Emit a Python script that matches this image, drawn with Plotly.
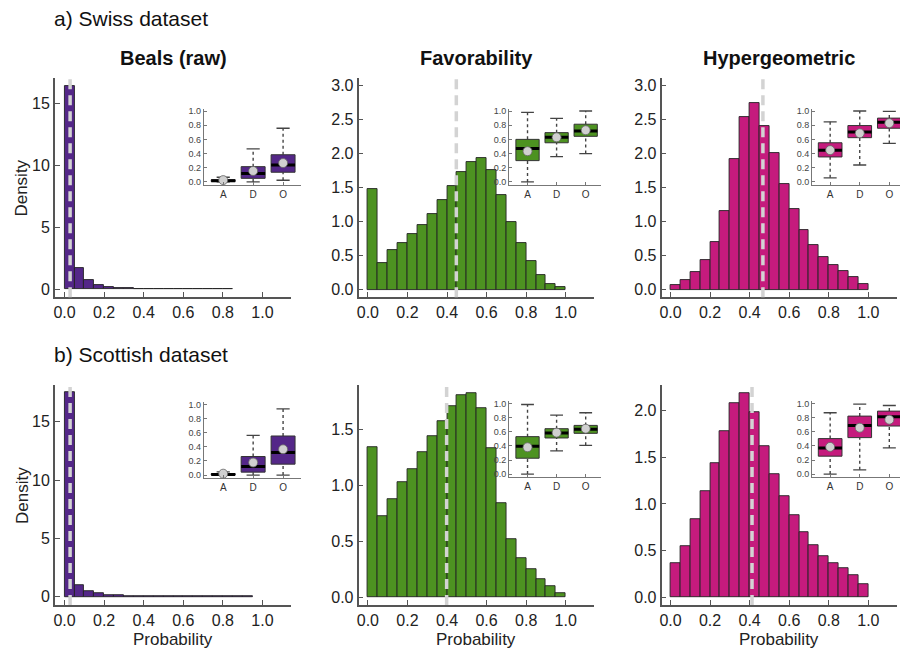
import plotly.graph_objects as go

# ---------------- data ----------------
bin_width = 0.05
beals_swiss = [16.4, 1.73, 0.75, 0.36, 0.2, 0.13, 0.09, 0.07, 0.05, 0.04, 0.03, 0.025, 0.02, 0.015, 0.01, 0.01, 0.005]
fav_swiss = [1.485, 0.39, 0.575, 0.687, 0.823, 0.955, 1.115, 1.32, 1.524, 1.724, 1.88, 1.929, 1.75, 1.383, 0.998, 0.682, 0.419, 0.219, 0.088, 0.03]
hyper_swiss = [0.063, 0.136, 0.253, 0.429, 0.692, 1.149, 1.914, 2.532, 2.737, 2.40, 2.006, 1.558, 1.183, 0.877, 0.648, 0.477, 0.356, 0.268, 0.19, 0.088]
beals_scot = [17.5, 0.95, 0.43, 0.26, 0.17, 0.11, 0.08, 0.06, 0.05, 0.04, 0.03, 0.025, 0.02, 0.015, 0.012, 0.01, 0.008, 0.006, 0.004]
fav_scot = [1.343, 0.72, 0.878, 1.026, 1.144, 1.299, 1.441, 1.571, 1.708, 1.806, 1.826, 1.687, 1.331, 0.842, 0.516, 0.35, 0.249, 0.16, 0.098, 0.039]
hyper_scot = [0.367, 0.544, 0.84, 1.142, 1.438, 1.783, 2.078, 2.192, 1.986, 1.623, 1.317, 1.082, 0.879, 0.701, 0.559, 0.441, 0.367, 0.306, 0.231, 0.135]

vlines = [0.028, 0.447, 0.467, 0.028, 0.398, 0.412]

categories = ["A", "D", "O"]
# box stats per inset: lower whisker, q1, median, q3, upper whisker, mean
box_beals_swiss = dict(lo=[0.0, 0.0, 0.023], q1=[0.005, 0.05, 0.136], med=[0.015, 0.117, 0.238],
                       q3=[0.03, 0.215, 0.383], hi=[0.065, 0.467, 0.757], mean=[0.025, 0.154, 0.266])
box_fav_swiss = dict(lo=[0.0, 0.357, 0.4], q1=[0.3, 0.552, 0.643], med=[0.471, 0.629, 0.719],
                     q3=[0.6, 0.695, 0.814], hi=[0.981, 0.895, 1.0], mean=[0.433, 0.629, 0.729])
box_hyper_swiss = dict(lo=[0.057, 0.238, 0.543], q1=[0.352, 0.624, 0.757], med=[0.448, 0.705, 0.843],
                       q3=[0.552, 0.795, 0.9], hi=[0.848, 1.0, 0.995], mean=[0.448, 0.686, 0.829])
box_beals_scot = dict(lo=[0.0, 0.0, 0.0], q1=[0.002, 0.042, 0.155], med=[0.008, 0.122, 0.319],
                      q3=[0.02, 0.263, 0.554], hi=[0.045, 0.563, 0.939], mean=[0.02, 0.178, 0.366])
box_fav_scot = dict(lo=[0.0, 0.33, 0.41], q1=[0.226, 0.514, 0.58], med=[0.396, 0.585, 0.637],
                    q3=[0.533, 0.646, 0.693], hi=[0.99, 0.84, 0.873], mean=[0.382, 0.59, 0.646])
box_hyper_scot = dict(lo=[0.0, 0.061, 0.373], q1=[0.255, 0.519, 0.684], med=[0.373, 0.693, 0.816],
                      q3=[0.505, 0.825, 0.896], hi=[0.873, 0.995, 0.976], mean=[0.387, 0.66, 0.774])

x_ticks = [0.0, 0.2, 0.4, 0.6, 0.8, 1.0]
inset_ticks = [0.0, 0.2, 0.4, 0.6, 0.8, 1.0]
y_ticks = [[0, 5, 10, 15], [0, 0.5, 1, 1.5, 2, 2.5, 3], [0, 0.5, 1, 1.5, 2, 2.5, 3],
           [0, 5, 10, 15], [0, 0.5, 1, 1.5], [0, 0.5, 1, 1.5, 2]]
y_fmt = ["{:.0f}", "{:.1f}", "{:.1f}", "{:.0f}", "{:.1f}", "{:.1f}"]

col_titles = ["Beals (raw)", "Favorability", "Hypergeometric"]
row_titles = ["a) Swiss dataset", "b) Scottish dataset"]

PURPLE = "#542788"
GREEN = "#4D9221"
MAGENTA = "#C51B7D"
colors = [PURPLE, GREEN, MAGENTA, PURPLE, GREEN, MAGENTA]
hists = [beals_swiss, fav_swiss, hyper_swiss, beals_scot, fav_scot, hyper_scot]
boxes = [box_beals_swiss, box_fav_swiss, box_hyper_swiss, box_beals_scot, box_fav_scot, box_hyper_scot]

# ---------------- layout geometry (pixels) ----------------
W, H = 900, 654
FONT = "Arial, Liberation Sans, sans-serif"


def xd(a, b):
    return [a / W, b / W]


def yd(top, bottom):
    return [1 - bottom / H, 1 - top / H]


main_cols = [(53, 290, 62.7), (357.3, 593.3, 366.7), (661, 896.7, 670)]
px_per_unit = 198.3
main_rows = [(76.5, 297), (385.5, 606.7)]
main_yranges = [[-0.618, 17.07], [-0.1125, 3.11], [-0.1125, 3.11],
                [-0.716, 18.14], [-0.071, 1.897], [-0.085, 2.275]]

inset_x = [(202.3, 300, [0.353, 3.61]), (508.3, 600, [0.369, 3.515]), (812, 900, [0.393, 3.361])]
inset_y = [[(107.2, 184.2)] * 3, [(402.5, 479.2), (401.8, 478.2), (401.8, 478.2)]]

fig = go.Figure()
layout = dict()
shapes = []
annotations = []

AXCOL = "#555555"

for i in range(6):
    r, c = divmod(i, 3)
    n = i + 1
    xa = "x" if n == 1 else f"x{n}"
    ya = "y" if n == 1 else f"y{n}"
    dens = hists[i]
    centers = [bin_width * (k + 0.5) for k in range(len(dens))]
    fig.add_trace(go.Bar(x=centers, y=dens, width=bin_width, xaxis=xa, yaxis=ya,
                         marker=dict(color=colors[i], line=dict(color="#222222", width=0.9)),
                         showlegend=False))
    a, b, z = main_cols[c]
    top, bot = main_rows[r]
    layout["xaxis" if n == 1 else f"xaxis{n}"] = dict(
        domain=xd(a, b), range=[(a - z) / px_per_unit, (b - z) / px_per_unit],
        anchor=ya, tickvals=x_ticks, ticktext=[f"{t:.1f}" for t in x_ticks],
        ticks="inside", ticklen=5, tickwidth=1.2, tickcolor=AXCOL,
        showline=True, linecolor=AXCOL, linewidth=1.6, showgrid=False, zeroline=False,
        tickfont=dict(size=16, color="#222222", family=FONT), fixedrange=True)
    layout["yaxis" if n == 1 else f"yaxis{n}"] = dict(
        domain=yd(top, bot), range=main_yranges[i], anchor=xa,
        tickvals=y_ticks[i], ticktext=[y_fmt[i].format(t) for t in y_ticks[i]],
        ticks="inside", ticklen=5, tickwidth=1.2, tickcolor=AXCOL,
        showline=True, linecolor=AXCOL, linewidth=1.6, showgrid=False, zeroline=False,
        tickfont=dict(size=16, color="#222222", family=FONT), fixedrange=True)
    shapes.append(dict(type="line", xref=xa, yref=f"{ya} domain", x0=vlines[i], x1=vlines[i],
                       y0=0, y1=1, line=dict(color="#d3d3d3", width=3.5, dash="10px,6px"),
                       layer="above"))

# insets
for i in range(6):
    r, c = divmod(i, 3)
    n = i + 7
    xa, ya = f"x{n}", f"y{n}"
    st = boxes[i]
    col = colors[i]
    cats = [1, 2, 3]
    hw = 0.4
    cw = 0.22
    wx, wy, bx, by, mx, my, cx, cy = [], [], [], [], [], [], [], []
    for k, cc in enumerate(cats):
        wx += [cc, cc, None, cc, cc, None]
        wy += [st["q3"][k], st["hi"][k], None, st["lo"][k], st["q1"][k], None]
        bx += [cc - hw, cc + hw, cc + hw, cc - hw, cc - hw, None]
        by += [st["q1"][k], st["q1"][k], st["q3"][k], st["q3"][k], st["q1"][k], None]
        mx += [cc - hw, cc + hw, None]
        my += [st["med"][k], st["med"][k], None]
        cx += [cc - cw, cc + cw, None, cc - cw, cc + cw, None]
        cy += [st["hi"][k], st["hi"][k], None, st["lo"][k], st["lo"][k], None]
    fig.add_trace(go.Scatter(x=wx, y=wy, mode="lines", xaxis=xa, yaxis=ya, showlegend=False,
                             line=dict(color="#444444", width=1.4, dash="dot")))
    fig.add_trace(go.Scatter(x=cx, y=cy, mode="lines", xaxis=xa, yaxis=ya, showlegend=False,
                             line=dict(color="#444444", width=1.3)))
    fig.add_trace(go.Scatter(x=bx, y=by, mode="lines", fill="toself", fillcolor=col,
                             xaxis=xa, yaxis=ya, showlegend=False,
                             line=dict(color="#333333", width=1)))
    fig.add_trace(go.Scatter(x=mx, y=my, mode="lines", xaxis=xa, yaxis=ya, showlegend=False,
                             line=dict(color="#000000", width=3)))
    fig.add_trace(go.Scatter(x=cats, y=st["mean"], mode="markers", xaxis=xa, yaxis=ya,
                             showlegend=False,
                             marker=dict(size=9, color="#d0d0d0", line=dict(color="#666666", width=0.8))))
    a, b, xr = inset_x[c]
    top, bot = inset_y[r][c]
    layout[f"xaxis{n}"] = dict(
        domain=xd(a, b), range=xr, anchor=ya, tickvals=cats, ticktext=categories,
        ticks="inside", ticklen=3, tickwidth=1, tickcolor="#777777",
        showline=True, linecolor="#777777", linewidth=1.2, showgrid=False, zeroline=False,
        tickfont=dict(size=10, color="#333333", family=FONT), fixedrange=True)
    layout[f"yaxis{n}"] = dict(
        domain=yd(top, bot), range=[-0.045, 1.035], anchor=xa,
        tickvals=inset_ticks, ticktext=[f"{t:.1f}" for t in inset_ticks],
        ticks="inside", ticklen=3, tickwidth=1, tickcolor="#777777",
        showline=True, linecolor="#777777", linewidth=1.2, showgrid=False, zeroline=False,
        tickfont=dict(size=9, color="#444444", family=FONT), fixedrange=True)

# texts
for k, t in enumerate(row_titles):
    annotations.append(dict(text=t, xref="paper", yref="paper", x=50 / W,
                            y=1 - (17 if k == 0 else 355) / H, xanchor="left", yanchor="middle",
                            showarrow=False, font=dict(size=21, color="#111111", family=FONT)))
for c, t in enumerate(col_titles):
    a, b, z = main_cols[c]
    annotations.append(dict(text=f"<b>{t}</b>", xref="paper", yref="paper", x=(a + b) / 2 / W,
                            y=1 - 56 / H, xanchor="center", yanchor="middle",
                            showarrow=False, font=dict(size=20, color="#111111", family=FONT)))
for r in range(2):
    top, bot = main_rows[r]
    annotations.append(dict(text="Density", xref="paper", yref="paper", x=20 / W,
                            y=1 - (top + bot) / 2 / H, xanchor="center", yanchor="middle",
                            textangle=-90, showarrow=False,
                            font=dict(size=17, color="#222222", family=FONT)))
for c in range(3):
    a, b, z = main_cols[c]
    annotations.append(dict(text="Probability", xref="paper", yref="paper", x=(a + b) / 2 / W,
                            y=1 - 641 / H, xanchor="center", yanchor="middle", showarrow=False,
                            font=dict(size=17, color="#222222", family=FONT)))

fig.update_layout(**layout)
fig.update_layout(width=W, height=H, margin=dict(l=0, r=0, t=0, b=0),
                  paper_bgcolor="white", plot_bgcolor="rgba(0,0,0,0)",
                  shapes=shapes, annotations=annotations, bargap=0,
                  font=dict(family=FONT), showlegend=False)

fig.write_html("out.html")
